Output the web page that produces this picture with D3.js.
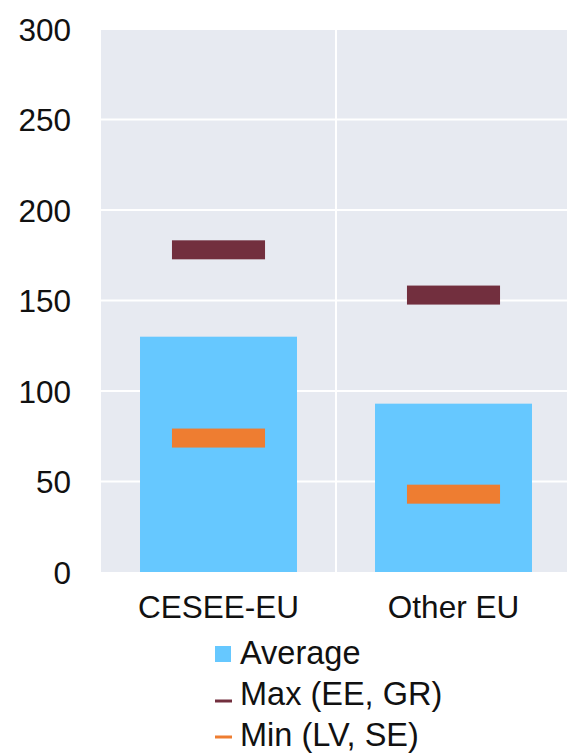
<!DOCTYPE html>
<html>
<head>
<meta charset="utf-8">
<script src="https://cdn.jsdelivr.net/npm/d3@7"></script>
<style>
  html, body { margin: 0; padding: 0; background: #ffffff; }
  svg { display: block; font-family: "Liberation Sans", Arial, sans-serif; }
</style>
</head>
<body>
<svg id="chart" width="567" height="754"></svg>
<script>
// Groups and values
const categories = ["CESEE-EU", "Other EU"];
const averageValues = [130, 93];
const maxValues = [178, 153];
const minValues = [74, 43];
const yTicks = [0, 50, 100, 150, 200, 250, 300];
const legendLabels = ["Average", "Max (EE, GR)", "Min (LV, SE)"];

const colors = { avg: "#66C8FF", max: "#722F3E", min: "#EE7D31", bg: "#E7EAF1", grid: "#FFFFFF" };
const fontSize = 31.5;
const legendFontSize = 32.5;

const svg = d3.select("#chart");
const plot = { left: 101, right: 571, top: 29, bottom: 572 };

const x = d3.scaleBand().domain(categories).range([plot.left, plot.right]).padding(0);
const y = d3.scaleLinear().domain([0, 300]).range([plot.bottom, plot.top]);

// Plot background
svg.append("rect")
  .attr("x", plot.left).attr("y", plot.top)
  .attr("width", plot.right - plot.left).attr("height", plot.bottom - plot.top)
  .attr("fill", colors.bg);

// Horizontal grid lines
svg.append("g").selectAll("line").data(yTicks.filter(d => d > 0)).join("line")
  .attr("x1", plot.left).attr("x2", plot.right)
  .attr("y1", d => y(d)).attr("y2", d => y(d))
  .attr("stroke", colors.grid).attr("stroke-width", 2);

// Vertical divider between groups
svg.append("g").selectAll("line").data(categories.slice(1)).join("line")
  .attr("x1", d => x(d)).attr("x2", d => x(d))
  .attr("y1", plot.top).attr("y2", plot.bottom)
  .attr("stroke", colors.grid).attr("stroke-width", 2);

// Average bars
const barW = x.bandwidth() * 0.668;
svg.append("g").selectAll("rect").data(categories).join("rect")
  .attr("x", d => x(d) + (x.bandwidth() - barW) / 2)
  .attr("width", barW)
  .attr("y", (d, i) => y(averageValues[i]))
  .attr("height", (d, i) => y(0) - y(averageValues[i]))
  .attr("fill", colors.avg);

// Max / min markers
const markW = x.bandwidth() * 0.396;
const markH = 19;
function markers(values, color) {
  svg.append("g").selectAll("rect").data(categories).join("rect")
    .attr("x", d => x(d) + (x.bandwidth() - markW) / 2)
    .attr("width", markW)
    .attr("y", (d, i) => y(values[i]) - markH / 2)
    .attr("height", markH)
    .attr("fill", color);
}
markers(maxValues, colors.max);
markers(minValues, colors.min);

// Y axis labels
const yAxis = d3.axisLeft(y).tickValues(yTicks).tickSize(0).tickPadding(0);
const gy = svg.append("g").attr("transform", "translate(71,0)").call(yAxis);
gy.select(".domain").remove();
gy.selectAll("text")
  .attr("font-family", "'Liberation Sans', Arial, sans-serif")
  .attr("font-size", fontSize).attr("fill", "#111").attr("dy", "0.36em");

// X axis labels
const xAxis = d3.axisBottom(x).tickSize(0).tickPadding(0);
const gx = svg.append("g").attr("transform", "translate(0,618)").call(xAxis);
gx.select(".domain").remove();
gx.selectAll("text")
  .attr("font-family", "'Liberation Sans', Arial, sans-serif")
  .attr("font-size", fontSize).attr("fill", "#111").attr("dy", 0);

// Legend
const legend = svg.append("g").attr("transform", "translate(215,0)");
const rowY = [664, 705, 746];
legend.append("rect").attr("x", 0).attr("y", rowY[0] - 18).attr("width", 16).attr("height", 16).attr("fill", colors.avg);
legend.append("line").attr("x1", 0).attr("x2", 17).attr("y1", rowY[1] - 4).attr("y2", rowY[1] - 4)
  .attr("stroke", colors.max).attr("stroke-width", 3);
legend.append("line").attr("x1", 0).attr("x2", 17).attr("y1", rowY[2] - 9).attr("y2", rowY[2] - 9)
  .attr("stroke", colors.min).attr("stroke-width", 3);
legend.selectAll("text").data(legendLabels).join("text")
  .attr("x", 25).attr("y", (d, i) => rowY[i])
  .attr("font-size", legendFontSize).attr("fill", "#111")
  .text(d => d);
</script>
</body>
</html>
